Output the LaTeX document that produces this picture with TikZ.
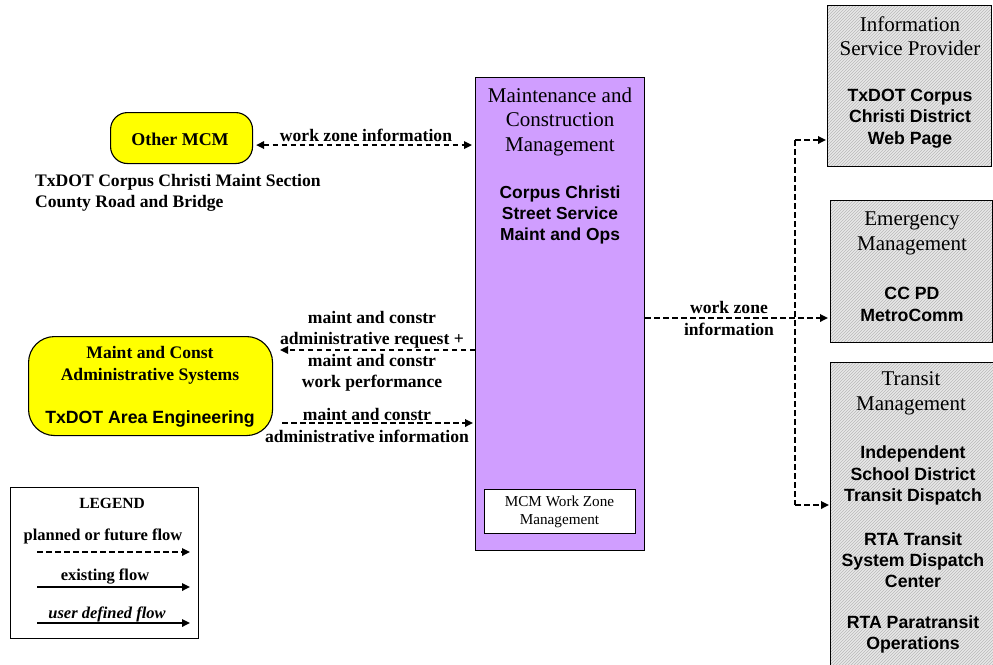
\documentclass[tikz,border=0pt]{standalone}
\usepackage{fontspec}
\setmainfont{Liberation Serif}
\newfontfamily\arialf{Liberation Sans}
\usetikzlibrary{arrows.meta,patterns}
\definecolor{mcmpurple}{RGB}{208,158,255}
\definecolor{ybox}{RGB}{255,255,0}
\begin{document}
\begin{tikzpicture}[x=1pt,y=-1pt,
  >={Triangle[length=8pt,width=7.5pt]},
  boxbase/.style={draw=black,line width=1pt,inner sep=0pt,anchor=north west},
  yellowbox/.style={boxbase,fill=ybox,line width=1.1pt},
  purplebox/.style={boxbase,fill=mcmpurple},
  whitebox/.style={boxbase,fill=white},
  graybox/.style={boxbase,preaction={fill=gray!18},pattern=north east lines,pattern color=gray!55},
  serifhead/.style={font=\fontsize{21}{24.5}\selectfont,align=center,inner sep=0pt},
  sansbold/.style={font=\arialf\bfseries\fontsize{17.7}{21.3}\selectfont,align=center,inner sep=0pt},
  lab/.style={font=\bfseries\fontsize{17.6}{21.3}\selectfont,align=center,inner sep=0pt},
  dflow/.style={line width=1.7pt,dash pattern=on 5.5pt off 3.5pt},
  sflow/.style={line width=1.7pt},
]
\useasboundingbox (0,0) rectangle (993,664);
\clip (0,0) rectangle (993,664);

% ---- boxes
\node[yellowbox,rounded corners=17pt,minimum width=142pt,minimum height=51pt] (other) at (110,112) {};
\node[yellowbox,rounded corners=26pt,minimum width=244pt,minimum height=99pt] (maint) at (28,336) {};
\node[purplebox,minimum width=169pt,minimum height=473pt] (mcm) at (475,77) {};
\node[whitebox,minimum width=151pt,minimum height=44pt] (wz) at (484,489) {};
\node[graybox,minimum width=164pt,minimum height=161pt] (isp) at (827,5) {};
\node[graybox,minimum width=162pt,minimum height=142pt] (em) at (830,200) {};
\node[graybox,minimum width=170pt,minimum height=330pt] (tr) at (830,362) {};

% ---- box texts
\node[lab,font=\bfseries\fontsize{18}{21}\selectfont] (otherT) at (180,139) {Other MCM};
\node[lab,align=left,anchor=west] (otherS) at (35,192.5) {TxDOT Corpus Christi Maint Section\\County Road and Bridge};
\node[lab,font=\bfseries\fontsize{17.6}{22}\selectfont] (maintT) at (150,365) {Maint and Const\\Administrative Systems};
\node[sansbold] (maintS) at (150,419) {TxDOT Area Engineering};

\node[serifhead] (mcmT) at (560,121.5) {Maintenance and\\Construction\\Management};
\node[sansbold,font=\arialf\bfseries\fontsize{17.4}{21}\selectfont] (mcmS) at (560,215) {Corpus Christi\\Street Service\\Maint and Ops};
\node[font=\fontsize{15.2}{18}\selectfont,align=center,inner sep=0pt] (wzT) at (559.5,511.5) {MCM Work Zone\\Management};

\node[serifhead] (ispT) at (910,36) {Information\\Service Provider};
\node[sansbold] (ispS) at (910,118.5) {TxDOT Corpus\\Christi District\\Web Page};
\node[serifhead] (emT) at (912,233.5) {Emergency\\Management};
\node[sansbold] (emS) at (912,304.5) {CC PD\\MetroComm};
\node[serifhead] (trT) at (911,393.5) {Transit\\Management};
\node[sansbold] (trS1) at (913,475.5) {Independent\\School District\\Transit Dispatch};
\node[sansbold] (trS2) at (913,560) {RTA Transit\\System Dispatch\\Center};
\node[sansbold] (trS3) at (913,634.5) {RTA Paratransit\\Operations};

% ---- connectors
\coordinate (a1) at ([xshift=3pt,yshift=-7pt]other.east);
\draw[dflow,<->,shorten >=3pt] (a1) -- (a1 -| mcm.west);
\node[lab] (a1L) at (366,135) {work zone information};

\coordinate (a2) at (mcm.west |- 0,350);
\draw[dflow,->,shorten >=7pt] (a2) -- (a2 -| maint.east);
\node[lab] (a2La) at (372,330) {maint and constr\\administrative request +};
\node[lab] (a2Lb) at (372,372.5) {maint and constr\\work performance};

\coordinate (a3) at (maint.east |- 0,423);
\draw[dflow,->,shorten <=9pt,shorten >=2pt] (a3) -- (a3 -| mcm.west);
\node[lab] (a3La) at (367,414) {maint and constr};
\node[lab] (a3Lb) at (367,436.5) {administrative information};

\coordinate (b1) at (mcm.east |- 0,318);
\draw[dflow,->,shorten >=2pt] (b1) -- (b1 -| em.west);
\node[lab] (b1La) at (729,307) {work zone};
\node[lab] (b1Lb) at (729,329) {information};
\coordinate (jt) at (795,140);
\coordinate (jb) at (795,505);
\draw[dflow] (jt) -- (jb);
\draw[dflow,->,shorten >=1pt] (jt) -- (jt -| isp.west);
\draw[dflow,->,shorten >=1pt] (jb) -- (jb -| tr.west);

% ---- legend
\node[boxbase,line width=1pt,minimum width=188pt,minimum height=151pt] (leg) at (10,487) {};
\node[lab,font=\bfseries\fontsize{15.5}{18}\selectfont] (legT) at (112,503) {LEGEND};
\node[lab,font=\bfseries\fontsize{16.5}{18}\selectfont] (legP) at (103,536) {planned or future flow};
\coordinate (l1s) at (37,552); \coordinate (l1e) at (190,552);
\draw[dflow,->] (l1s) -- (l1e);
\node[lab,font=\bfseries\fontsize{16.5}{18}\selectfont] (legE) at (105,577) {existing flow};
\coordinate (l2s) at (37,587); \coordinate (l2e) at (190,587);
\draw[sflow,->] (l2s) -- (l2e);
\node[lab,font=\bfseries\itshape\fontsize{16.5}{18}\selectfont] (legU) at (107,614) {user defined flow};
\coordinate (l3s) at (37,623); \coordinate (l3e) at (190,623);
\draw[sflow,->] (l3s) -- (l3e);
\end{tikzpicture}
\end{document}
